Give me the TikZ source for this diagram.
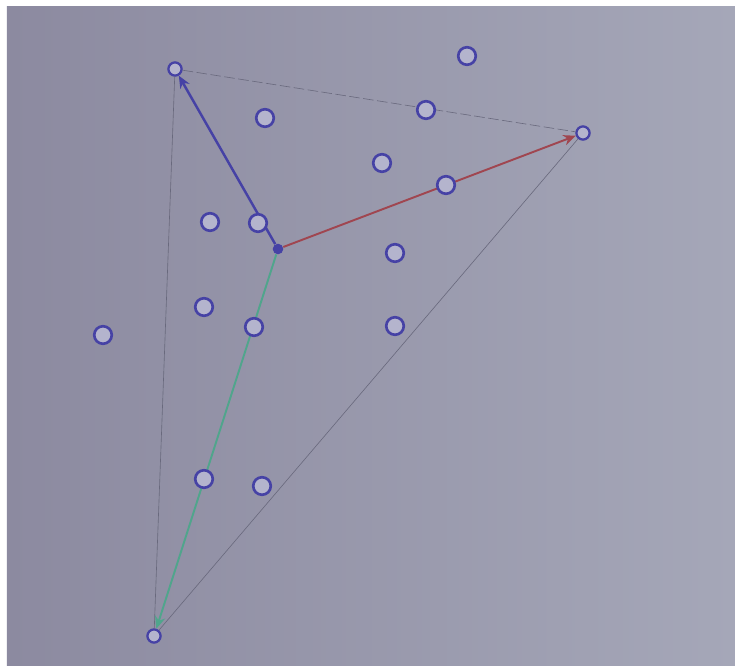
\documentclass[tikz,border=0pt]{standalone}
\usetikzlibrary{arrows.meta}
\definecolor{ink}{RGB}{70,66,165}
\definecolor{inkfill}{RGB}{180,180,205}
\definecolor{pencil}{RGB}{105,105,125}
\definecolor{redink}{RGB}{160,70,80}
\definecolor{greenink}{RGB}{80,165,140}
\definecolor{paperL}{RGB}{140,138,160}
\definecolor{paperR}{RGB}{165,167,184}

\begin{document}
\begin{tikzpicture}[x=0.02cm,y=-0.02cm,
    dot/.style={circle, draw=ink, line width=1.5pt, fill=inkfill, inner sep=0pt, minimum size=10pt},
    corner/.style={circle, draw=ink, line width=1.3pt, fill=inkfill, inner sep=0pt, minimum size=7.5pt},
    side/.style={draw=pencil, line width=0.35pt},
    vec/.style={line width=1.1pt, -{Stealth[length=7pt, width=6pt]}}]
    % paper
        \useasboundingbox (0,0) rectangle (735,666);
        \fill[white] (0,0) rectangle (735,666);
        \shade[left color=paperL, right color=paperR] (7,7) rectangle (735,666);

    % mark corners of triangle
        \node[corner] (A) at (175,69) {};
        \node[corner] (B) at (583,133) {};
        \node[corner] (C) at (154,636) {};
        \node[circle, fill=ink, inner sep=0pt, minimum size=6pt] (O) at (278,249) {};

    % draw sides
        \draw[side, dashed, dash pattern=on 6pt off 2pt] (A) -- (B);
        \draw[side] (B) -- (C);
        \draw[side] (C) -- (A);

    % draw vectors
        \draw[vec, line width=1.4pt, ink] (O) -- (A);
        \draw[vec, redink] (O) -- (B);
        \draw[vec, greenink] (O) -- (C);

    % other points
        \node[dot] (p1) at (467,56) {};
        \node[dot] (p2) at (265,118) {};
        \node[dot] (p3) at (426,110) {};
        \node[dot] (p4) at (382,163) {};
        \node[dot] (p5) at (446,185) {};
        \node[dot] (p6) at (210,222) {};
        \node[dot] (p7) at (258,223) {};
        \node[dot] (p8) at (395,253) {};
        \node[dot] (p9) at (204,307) {};
        \node[dot] (p10) at (254,327) {};
        \node[dot] (p11) at (395,326) {};
        \node[dot] (p12) at (103,335) {};
        \node[dot] (p13) at (204,479) {};
        \node[dot] (p14) at (262,486) {};
\end{tikzpicture}
\end{document}
